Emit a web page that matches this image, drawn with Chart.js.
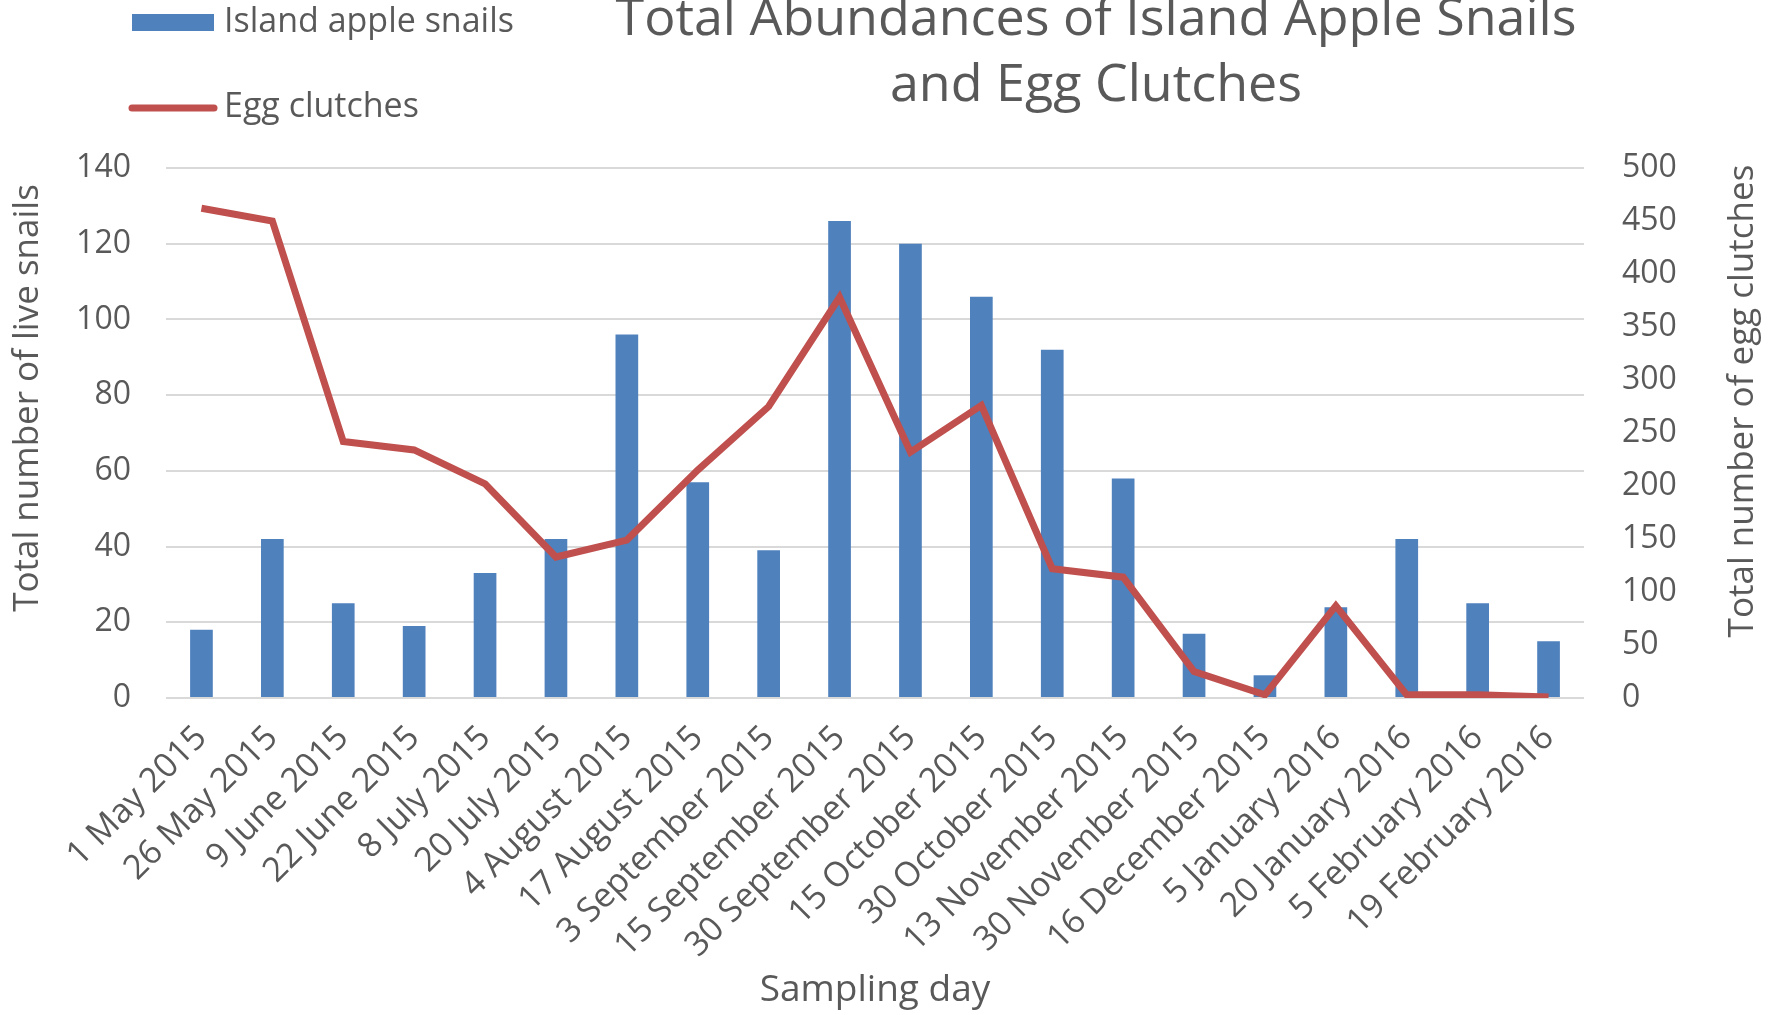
<!DOCTYPE html>
<html>
<head>
<meta charset="utf-8">
<script src="https://cdn.jsdelivr.net/npm/chart.js@4.4.1/dist/chart.umd.min.js"></script>
<style>
  html, body { margin: 0; padding: 0; background: #ffffff; }
  #wrap { width: 1781px; height: 1015px; position: relative; }
</style>
</head>
<body>
<div id="wrap"><canvas id="chart" width="1781" height="1015"></canvas></div>
<script>
// Sampling dates on the island
const samplingDays = [
  '1 May 2015', '26 May 2015', '9 June 2015', '22 June 2015', '8 July 2015',
  '20 July 2015', '4 August 2015', '17 August 2015', '3 September 2015',
  '15 September 2015', '30 September 2015', '15 October 2015', '30 October 2015',
  '13 November 2015', '30 November 2015', '16 December 2015', '5 January 2016',
  '20 January 2016', '5 February 2016', '19 February 2016'
];

// Live island apple snails counted per sampling day (left axis)
const snailCounts = [18, 42, 25, 19, 33, 42, 96, 57, 39, 126, 120, 106, 92, 58, 17, 6, 24, 42, 25, 15];

// Egg clutches counted per sampling day (right axis)
const eggClutches = [462, 450, 242, 234, 202, 133, 149, 215, 275, 378, 232, 276, 122, 114, 25, 3, 87, 3, 3, 1];

const seriesNames = ['Island apple snails', 'Egg clutches'];
const titleLines = ['Total Abundances of Island Apple Snails', 'and Egg Clutches'];
const leftAxisTitle = 'Total number of live snails';
const rightAxisTitle = 'Total number of egg clutches';
const bottomAxisTitle = 'Sampling day';

const snailMax = 140, snailStep = 20;
const clutchMax = 500, clutchStep = 50;

const BLUE = '#4F81BD';
const RED = '#C0504D';
const TEXT = '#595959';
const GRID = '#D9D9D9';
const FONT = '"Open Sans", "DejaVu Sans", sans-serif';

// Title, stacked legend and the two vertical axis titles
const headerPlugin = {
  id: 'header',
  afterDraw(chart) {
    const ctx = chart.ctx;
    ctx.save();
    ctx.fillStyle = TEXT;
    ctx.textAlign = 'center';
    ctx.textBaseline = 'middle';
    ctx.font = '52px ' + FONT;
    titleLines.forEach((line, i) => ctx.fillText(line, 1096, 20 + i * 66));

    const ds = chart.data.datasets;
    ctx.textAlign = 'left';
    ctx.font = '34px ' + FONT;
    // bar swatch
    ctx.fillStyle = ds[0].backgroundColor;
    ctx.fillRect(132, 14, 82, 17);
    ctx.fillStyle = TEXT;
    ctx.fillText(ds[0].label, 224, 22);
    // line swatch
    ctx.strokeStyle = ds[1].borderColor;
    ctx.lineWidth = 7;
    ctx.lineCap = 'round';
    ctx.beginPath();
    ctx.moveTo(132, 108);
    ctx.lineTo(214, 108);
    ctx.stroke();
    ctx.fillStyle = TEXT;
    ctx.fillText(ds[1].label, 224, 107);

    // vertical axis titles
    ctx.textAlign = 'center';
    ctx.font = '35px ' + FONT;
    ctx.save();
    ctx.translate(28, 398);
    ctx.rotate(-Math.PI / 2);
    ctx.fillText(leftAxisTitle, 0, 0);
    ctx.restore();
    ctx.save();
    ctx.translate(1743, 401);
    ctx.rotate(-Math.PI / 2);
    ctx.fillText(rightAxisTitle, 0, 0);
    ctx.restore();
    ctx.restore();
  }
};

new Chart(document.getElementById('chart'), {
  data: {
    labels: samplingDays,
    datasets: [
      {
        type: 'bar',
        label: seriesNames[0],
        data: snailCounts,
        backgroundColor: BLUE,
        borderWidth: 0,
        barPercentage: 0.32,
        categoryPercentage: 1.0,
        yAxisID: 'y',
        order: 2
      },
      {
        type: 'line',
        label: seriesNames[1],
        data: eggClutches,
        borderColor: RED,
        backgroundColor: RED,
        borderWidth: 7,
        pointRadius: 0,
        tension: 0,
        fill: false,
        yAxisID: 'y1',
        order: 1
      }
    ]
  },
  options: {
    responsive: false,
    animation: false,
    layout: { padding: { top: 168, left: 0, right: 0, bottom: 0 } },
    plugins: {
      legend: { display: false },
      title: { display: false },
      tooltip: { enabled: false }
    },
    scales: {
      x: {
        grid: { display: false },
        border: { display: false },
        ticks: {
          color: TEXT,
          font: { family: FONT, size: 34 },
          minRotation: 45,
          maxRotation: 45,
          autoSkip: false,
          padding: 12
        },
        title: {
          display: true,
          text: bottomAxisTitle,
          color: TEXT,
          font: { family: FONT, size: 37 },
          padding: { top: 0, bottom: 2 }
        },
        afterFit(scale) { scale.height = 317; }
      },
      y: {
        position: 'left',
        min: 0,
        max: snailMax,
        grid: { color: GRID, lineWidth: 2, drawTicks: false },
        border: { display: false },
        ticks: {
          stepSize: snailStep,
          color: TEXT,
          font: { family: FONT, size: 32 },
          padding: 35
        },
        title: { display: false },
        afterFit(scale) { scale.width = 166; }
      },
      y1: {
        position: 'right',
        min: 0,
        max: clutchMax,
        grid: { display: false, drawTicks: false },
        border: { display: false },
        ticks: {
          stepSize: clutchStep,
          color: TEXT,
          font: { family: FONT, size: 32 },
          padding: 38
        },
        title: { display: false },
        afterFit(scale) { scale.width = 197; }
      }
    }
  },
  plugins: [headerPlugin]
});
</script>
</body>
</html>
